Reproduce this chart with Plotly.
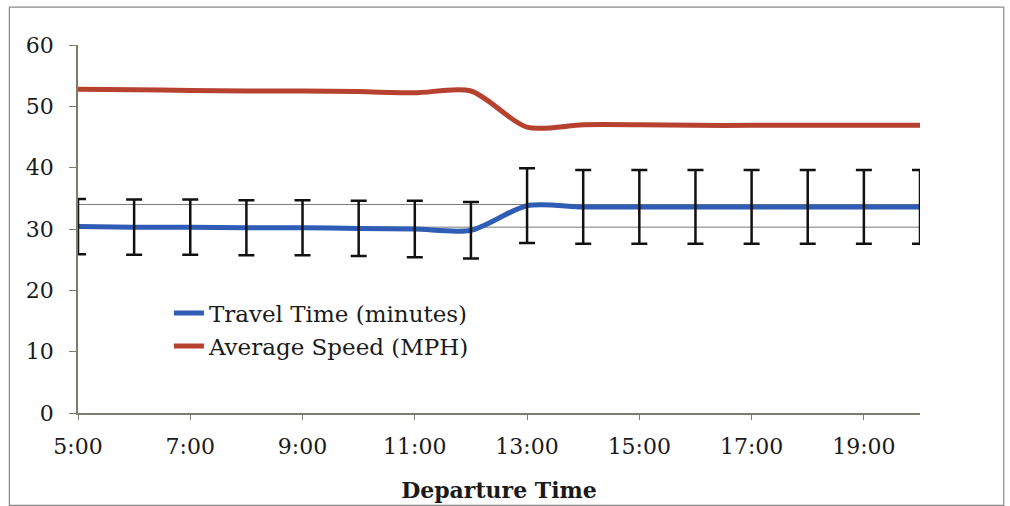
import plotly.graph_objects as go

# Departure hour (5:00 .. 20:00)
hours = [5, 6, 7, 8, 9, 10, 11, 12, 13, 14, 15, 16, 17, 18, 19, 20]

# Travel time in minutes, with its +/- spread
travel_time = [30.4, 30.3, 30.3, 30.2, 30.2, 30.1, 30.0, 29.8,
               33.8, 33.6, 33.6, 33.6, 33.6, 33.6, 33.6, 33.6]
travel_spread = [4.5, 4.5, 4.5, 4.5, 4.5, 4.5, 4.6, 4.6,
                 6.1, 6.0, 6.0, 6.0, 6.0, 6.0, 6.0, 6.0]

# Average speed in MPH
avg_speed = [52.8, 52.7, 52.6, 52.5, 52.5, 52.4, 52.2, 52.5,
             46.6, 47.0, 47.0, 46.9, 46.9, 46.9, 46.9, 46.9]

# Horizontal reference levels
ref_levels = [34.0, 30.3]

tick_hours = [5, 7, 9, 11, 13, 15, 17, 19]
tick_text = ["5:00", "7:00", "9:00", "11:00", "13:00", "15:00", "17:00", "19:00"]

FONT = "DejaVu Serif"
BLUE = "#2F5CB4"
RED = "#B5412E"

fig = go.Figure()

for lvl in ref_levels:
    fig.add_trace(go.Scatter(
        x=[hours[0], hours[-1]], y=[lvl, lvl], mode="lines",
        line=dict(color="#7a7a7a", width=1), showlegend=False, hoverinfo="skip"))

fig.add_trace(go.Scatter(
    x=hours, y=travel_time, mode="lines", name="Travel Time (minutes)",
    line=dict(color=BLUE, width=5, shape="spline", smoothing=0.8)))

fig.add_trace(go.Scatter(
    x=hours, y=avg_speed, mode="lines", name="Average Speed (MPH)",
    line=dict(color=RED, width=5, shape="spline", smoothing=0.8)))

# Spread whiskers drawn on top of the travel-time line
fig.add_trace(go.Scatter(
    x=hours, y=travel_time, mode="markers",
    marker=dict(size=1, opacity=0), showlegend=False, hoverinfo="skip",
    error_y=dict(type="data", array=travel_spread, visible=True,
                 color="#111111", thickness=2.5, width=8)))

# Outer frame around the chart
fig.add_shape(type="rect", xref="paper", yref="paper",
              x0=-0.0815, x1=1.0995, y0=-0.251, y1=1.103,
              line=dict(color="#8a8a8a", width=1.2), fillcolor="rgba(0,0,0,0)")

fig.update_layout(
    width=1010, height=506,
    margin=dict(l=78, r=90, t=45, b=93, autoexpand=False),
    paper_bgcolor="white", plot_bgcolor="white",
    font=dict(family=FONT, size=22, color="#1a1a1a"),
    legend=dict(x=0.108, y=0.33, xanchor="left", yanchor="top",
                bgcolor="rgba(0,0,0,0)", font=dict(family=FONT, size=23),
                tracegroupgap=0, itemwidth=30),
    xaxis=dict(range=[5, 20], tickvals=tick_hours, ticktext=tick_text,
               automargin=False,
               showgrid=False, zeroline=False, showline=True,
               linecolor="#7d7d6e", linewidth=1.5,
               ticks="outside", ticklen=5, tickcolor="#7d7d6e",
               ticklabelstandoff=8,
               tickfont=dict(family=FONT, size=22),
               title=dict(text="<b>Departure Time</b>", standoff=24,
                          font=dict(family=FONT, size=22))),
    yaxis=dict(range=[0, 60], tickvals=[0, 10, 20, 30, 40, 50, 60],
               automargin=False,
               showgrid=False, zeroline=False, showline=True,
               linecolor="#7d7d6e", linewidth=1.5,
               ticks="outside", ticklen=7, tickcolor="#7d7d6e",
               ticklabelstandoff=11,
               tickfont=dict(family=FONT, size=22)),
)

fig.write_html("out.html")
